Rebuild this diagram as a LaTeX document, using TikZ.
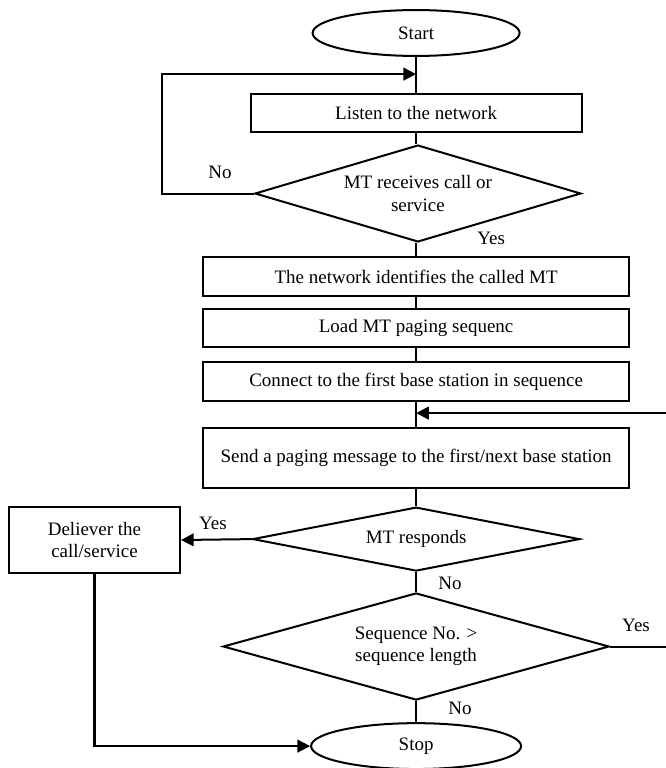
\documentclass[tikz,border=0pt]{standalone}
\usepackage{fontspec}
\setmainfont{Liberation Serif}
\usetikzlibrary{shapes.geometric, arrows.meta, positioning}

\begin{document}
\begin{tikzpicture}[>={Triangle[length=12pt,width=12pt]}, line width=1.9pt, font=\fontsize{18}{21}\selectfont]
    \tikzstyle{process}=[draw, rectangle, minimum width=14.2cm, minimum height=1.3cm, inner sep=0pt, align=center]
    \tikzstyle{decision}=[draw, diamond, inner sep=0pt, align=center]
    \tikzstyle{terminal}=[draw, ellipse, minimum width=6.9cm, minimum height=1.53cm, inner sep=0pt]
    \tikzstyle{answer}=[inner sep=0pt]

    \useasboundingbox (0,0) rectangle (22.2,-25.6);

    % Positions of the steps
    \coordinate (P1) at (13.87,-1.1);
    \coordinate (P2) at (13.87,-3.77);
    \coordinate (P3) at (13.93,-6.45);
    \coordinate (P4) at (13.87,-9.22);
    \coordinate (P5) at (13.87,-10.93);
    \coordinate (P6) at (13.87,-12.72);
    \coordinate (P7) at (13.87,-15.27);
    \coordinate (P8) at (13.87,-17.97);
    \coordinate (P9) at (13.87,-21.55);
    \coordinate (P10) at (13.87,-24.87);
    \coordinate (P11) at (3.15,-18.0);

    % Steps
    \node[terminal] (start) at (P1) {Start};
    \node[process, minimum width=11.03cm, minimum height=1.27cm] (listen) at (P2) {Listen to the network};
    \node[decision, minimum width=10.87cm, minimum height=3.23cm, aspect=3.36] (receive) at (P3) {MT receives call or\\service};
    \node[process] (identify) at (P4) {The network identifies the called MT};
    \node[process, minimum height=1.27cm] (load) at (P5) {Load MT paging sequenc};
    \node[process] (connect) at (P6) {Connect to the first base station in sequence};
    \node[process, minimum height=2cm] (send) at (P7) {Send a paging message to the first/next base station};
    \node[decision, minimum width=10.9cm, minimum height=2.13cm, aspect=5.1] (respond) at (P8) {MT responds};
    \node[decision, minimum width=12.87cm, minimum height=3.57cm, aspect=3.6] (length) at (P9) {Sequence No. >\\sequence length};
    \node[terminal, minimum width=7cm] (stop) at (P10) {Stop};
    \node[draw, rectangle, minimum width=5.7cm, minimum height=2.2cm, inner sep=0pt, align=center] (deliver) at (P11) {Deliever the\\call/service};

    % Free ends of the loops
    \coordinate (loopin) at (13.87,-2.47);
    \coordinate (loopcorner) at (5.4,-2.47);
    \coordinate (join) at (13.87,-13.77);

    % Main column
    \draw (start) -- (listen);
    \draw (listen.south) -- (listen.south |- receive.north);
    \draw (receive.south -| identify.north) -- (identify);
    \draw (identify) -- (load);
    \draw (load) -- (connect);
    \draw (connect) -- (send);
    \draw (send) -- (respond);
    \draw (respond) -- (length);
    \draw (length) -- (stop);

    % Branches
    \draw[->] (receive.west) -| (loopcorner) -- (loopin);
    \draw[->] (respond.west) -- (deliver.east);
    \draw[->] (deliver.south) |- (stop.west);
    \draw[->] (length.east) -- ++(3,0) |- (join);

    % Answers
    \node[answer] (no1) at (7.33,-5.73) {No};
    \node[answer] (yes1) at (16.37,-7.93) {Yes};
    \node[answer] (yes2) at (7.1,-17.43) {Yes};
    \node[answer] (no2) at (15.0,-19.43) {No};
    \node[answer] (yes3) at (21.2,-20.83) {Yes};
    \node[answer] (no3) at (15.33,-23.6) {No};
\end{tikzpicture}
\end{document}
